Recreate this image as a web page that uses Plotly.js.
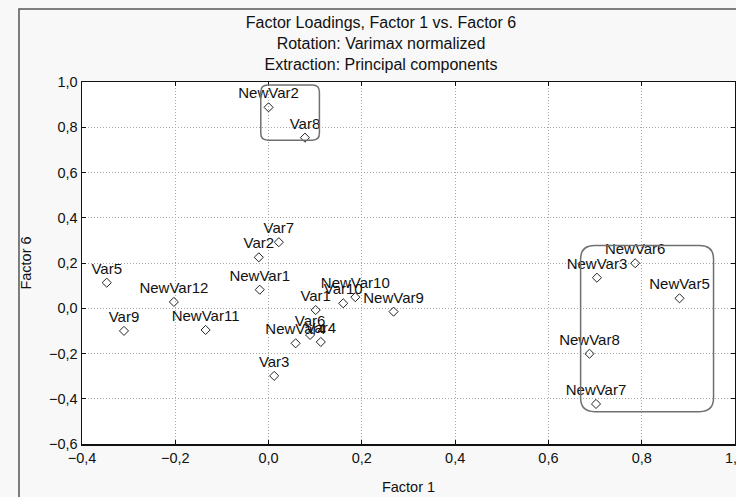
<!DOCTYPE html>
<html>
<head>
<meta charset="utf-8">
<script src="https://cdn.plot.ly/plotly-3.0.1.min.js"></script>
<style>
  html, body { margin: 0; padding: 0; background: #f8f8f8; }
  #chart { width: 736px; height: 497px; }
</style>
</head>
<body>
<div id="chart"></div>
<script>
// Variable names (point labels)
var varNames = [
  "NewVar2", "Var8", "Var7", "Var2", "NewVar1", "Var5", "NewVar12", "Var9",
  "NewVar11", "Var1", "Var10", "NewVar10", "NewVar9", "NewVar4", "Var4",
  "Var6", "Var3", "NewVar6", "NewVar3", "NewVar5", "NewVar8", "NewVar7"
];
// Loadings on Factor 1 (x)
var factor1 = [
  0.000, 0.078, 0.022, -0.021, -0.019, -0.347, -0.203, -0.310,
  -0.135, 0.101, 0.160, 0.186, 0.268, 0.058, 0.112,
  0.089, 0.012, 0.786, 0.704, 0.881, 0.688, 0.702
];
// Loadings on Factor 6 (y)
var factor6 = [
  0.888, 0.754, 0.292, 0.225, 0.082, 0.113, 0.028, -0.100,
  -0.096, -0.008, 0.022, 0.049, -0.015, -0.155, -0.149,
  -0.118, -0.299, 0.199, 0.135, 0.044, -0.201, -0.423
];
var xTicks = [-0.4, -0.2, 0.0, 0.2, 0.4, 0.6, 0.8, 1.0];
var yTicks = [-0.6, -0.4, -0.2, 0.0, 0.2, 0.4, 0.6, 0.8, 1.0];

function roundRect(x0, x1, y0, y1, rx, ry) {
  return "M " + (x0 + rx) + "," + y1 +
    " L " + (x1 - rx) + "," + y1 +
    " Q " + x1 + "," + y1 + " " + x1 + "," + (y1 - ry) +
    " L " + x1 + "," + (y0 + ry) +
    " Q " + x1 + "," + y0 + " " + (x1 - rx) + "," + y0 +
    " L " + (x0 + rx) + "," + y0 +
    " Q " + x0 + "," + y0 + " " + x0 + "," + (y0 + ry) +
    " L " + x0 + "," + (y1 - ry) +
    " Q " + x0 + "," + y1 + " " + (x0 + rx) + "," + y1 + " Z";
}

var FONT = "Liberation Sans, Arial, sans-serif";

var trace = {
  type: "scatter",
  mode: "markers+text",
  x: factor1,
  y: factor6,
  text: varNames,
  textposition: "top center",
  textfont: { family: FONT, size: 15, color: "#111" },
  marker: { symbol: "diamond-open", size: 7, color: "#222", line: { width: 1, color: "#222" } },
  cliponaxis: false,
  hoverinfo: "x+y+text"
};

var axisCommon = {
  showline: true, linecolor: "#111", linewidth: 1.5, mirror: "ticks",
  ticks: "inside", ticklen: 4, tickcolor: "#111", tickwidth: 1,
  showgrid: true, gridcolor: "#a8a8a8", griddash: "1px,2px", gridwidth: 1,
  zeroline: false, tickformat: ".1f", ticklabeloverflow: "allow",
  tickfont: { family: FONT, size: 14.5, color: "#111" }
};

var layout = {
  width: 736, height: 497,
  paper_bgcolor: "#f8f8f8",
  plot_bgcolor: "#ffffff",
  separators: ",.",
  showlegend: false,
  margin: { l: 82, r: 1, t: 82, b: 53 },
  title: {
    text: "Factor Loadings, Factor 1 vs. Factor 6<br>Rotation: Varimax normalized<br>Extraction: Principal components",
    font: { family: FONT, size: 16, color: "#111" },
    x: 381 / 736, xanchor: "center", xref: "container",
    y: 1 - 28 / 497, yanchor: "top", yref: "container"
  },
  xaxis: Object.assign({}, axisCommon, {
    range: [-0.4, 1.0], tickvals: xTicks,
    title: { text: "Factor 1", font: { family: FONT, size: 14.5, color: "#111" }, standoff: 17 }
  }),
  yaxis: Object.assign({}, axisCommon, {
    range: [-0.6, 1.0], tickvals: yTicks,
    title: { text: "Factor 6", font: { family: FONT, size: 14.5, color: "#111" }, standoff: 14 }
  }),
  shapes: [
    { type: "path", xref: "x", yref: "y", path: roundRect(-0.0167, 0.109, 0.743, 0.987, 0.015, 0.03),
      line: { color: "#707070", width: 1.5 } },
    { type: "path", xref: "x", yref: "y", path: roundRect(0.669, 0.954, -0.457, 0.277, 0.03, 0.06),
      line: { color: "#707070", width: 1.5 } },
    { type: "path", xref: "paper", yref: "paper",
      path: "M -0.0965,-0.3 L -0.0965,1.2017 L 1.2,1.2017",
      line: { color: "#555", width: 1.5 } }
  ]
};

Plotly.newPlot("chart", [trace], layout, { displayModeBar: false, staticPlot: true });
</script>
</body>
</html>
